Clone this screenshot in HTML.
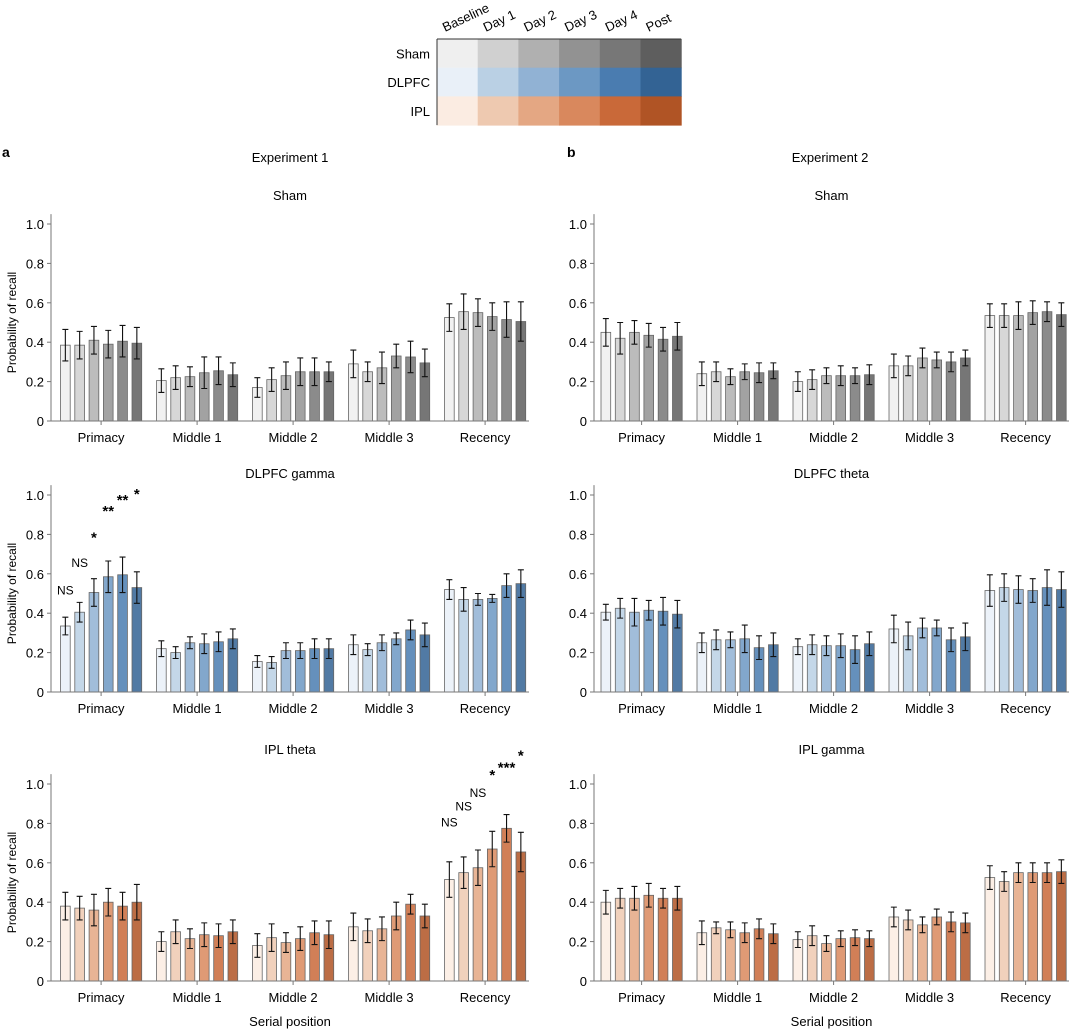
<!DOCTYPE html>
<html><head><meta charset="utf-8"><style>
html,body{margin:0;padding:0;background:#fff;}
svg{display:block;font-family:"Liberation Sans",Arial,sans-serif;}
</style></head><body>
<svg id="chart" width="1080" height="1029" viewBox="0 0 1080 1029" xmlns="http://www.w3.org/2000/svg">
<g id="legend"></g>
<text x="2" y="157" font-size="14" font-weight="bold">a</text>
<text x="567" y="157" font-size="14" font-weight="bold">b</text>
<text x="290" y="162" font-size="13" text-anchor="middle">Experiment 1</text>
<text x="830" y="162" font-size="13" text-anchor="middle">Experiment 2</text>
<g id="panels"></g>
</svg>
<script>
const groups = ["Primacy","Middle 1","Middle 2","Middle 3","Recency"];
const sessions = ["Baseline","Day 1","Day 2","Day 3","Day 4","Post"];
const conditions = ["Sham","DLPFC","IPL"];
const yTicks = [0,0.2,0.4,0.6,0.8,1.0];
const yTickLabels = ["0","0.2","0.4","0.6","0.8","1.0"];

const shamColors = ["#efefef","#d0d0d0","#b0b0b0","#929292","#777777","#5e5e5e"];
const dlpfcColors = ["#e9f0f8","#bad0e4","#91b2d4","#6c98c3","#4a7cb0","#336394"];
const iplColors = ["#fbece2","#eec9b0","#e4a783","#d9885d","#c96939","#b05425"];

const exp1Sham = [.385,.385,.41,.39,.405,.395, .205,.22,.225,.245,.255,.235, .17,.21,.23,.25,.25,.25, .29,.25,.27,.33,.325,.295, .525,.555,.55,.53,.515,.505];
const exp1ShamErr = [.08,.07,.07,.07,.08,.08, .06,.06,.05,.08,.07,.06, .05,.06,.07,.07,.07,.05, .07,.05,.08,.06,.08,.07, .07,.09,.07,.07,.09,.10];
const exp1Dlpfc = [.335,.405,.505,.585,.595,.53, .22,.20,.25,.245,.255,.27, .155,.15,.21,.21,.22,.22, .24,.215,.25,.27,.315,.29, .52,.47,.47,.475,.54,.55];
const exp1DlpfcErr = [.045,.05,.07,.08,.09,.08, .04,.03,.03,.05,.05,.05, .03,.03,.04,.04,.05,.05, .05,.03,.04,.03,.05,.06, .05,.06,.03,.02,.06,.07];
const exp1Ipl = [.38,.37,.36,.40,.38,.40, .20,.25,.215,.235,.23,.25, .18,.22,.195,.215,.245,.235, .275,.255,.265,.33,.39,.33, .515,.55,.575,.67,.775,.655];
const exp1IplErr = [.07,.06,.08,.07,.07,.09, .05,.06,.05,.06,.06,.06, .06,.07,.05,.06,.06,.07, .07,.06,.06,.07,.05,.06, .09,.08,.09,.09,.07,.10];
const exp2Sham = [.45,.42,.45,.435,.415,.43, .24,.25,.225,.25,.245,.255, .20,.21,.23,.23,.23,.235, .28,.28,.32,.31,.30,.32, .535,.535,.535,.55,.555,.54];
const exp2ShamErr = [.07,.08,.06,.06,.06,.07, .06,.05,.04,.04,.05,.04, .05,.05,.04,.05,.04,.05, .06,.05,.05,.04,.05,.04, .06,.06,.07,.06,.05,.06];
const exp2Dlpfc = [.405,.425,.405,.415,.41,.395, .25,.265,.265,.27,.225,.24, .23,.24,.235,.235,.215,.245, .32,.285,.325,.325,.265,.28, .515,.53,.52,.515,.53,.52];
const exp2DlpfcErr = [.04,.05,.07,.05,.07,.07, .05,.05,.04,.07,.06,.06, .04,.05,.05,.06,.07,.06, .07,.07,.05,.04,.06,.07, .08,.07,.07,.06,.09,.09];
const exp2Ipl = [.40,.42,.42,.435,.42,.42, .245,.27,.26,.245,.265,.24, .21,.23,.19,.215,.22,.215, .325,.31,.285,.325,.30,.295, .525,.505,.55,.55,.55,.555];
const exp2IplErr = [.06,.05,.06,.06,.05,.06, .06,.03,.04,.05,.05,.05, .04,.05,.04,.04,.04,.04, .05,.05,.04,.04,.05,.05, .06,.05,.05,.05,.05,.06];

const dlpfcSigBars = [0,1,2,3,4,5];
const dlpfcSigLabels = ["NS","NS","*","**","**","*"];
const dlpfcSigY = [0.52,0.66,0.80,0.935,0.99,1.02];
const iplSigBars = [24,25,26,27,28,29];
const iplSigLabels = ["NS","NS","NS","*","***","*"];
const iplSigY = [0.81,0.89,0.96,1.06,1.10,1.16];

const NS = "http://www.w3.org/2000/svg";
function mk(tag, attrs, parent){
  const e = document.createElementNS(NS, tag);
  for (const k in attrs) e.setAttribute(k, attrs[k]);
  parent.appendChild(e);
  return e;
}

const leg = document.getElementById('legend');
const legColors = [shamColors, dlpfcColors, iplColors];
const cellW = 40.7, cellH = 28.7, legX = 437, legY = 39;
conditions.forEach((c, r) => {
  const t = mk('text', {x: 430, y: legY + r*cellH + cellH/2 + 5, 'font-size': 13, 'text-anchor': 'end'}, leg);
  
  
  t.textContent = c;
  sessions.forEach((s, i) => {
    const rc = mk('rect', {x: legX + i*cellW, y: legY + r*cellH, width: cellW + 0.5, height: cellH + 0.5, fill: legColors[r][i]}, leg);
    
    
  });
});
mk('line', {x1: legX, y1: legY, x2: legX + 6*cellW, y2: legY, stroke: '#333', 'stroke-width': 1}, leg);
mk('line', {x1: legX, y1: legY, x2: legX, y2: legY + 3*cellH, stroke: '#333', 'stroke-width': 1}, leg);
sessions.forEach((s, i) => {
  const x = legX + i*cellW + 8, y = 32;
  const t = mk('text', {x: x, y: y, 'font-size': 13, transform: 'rotate(-25 ' + x + ' ' + y + ')'}, leg);
  
  
  t.textContent = s;
});

const panels = [
  {name:'exp1-sham', title:'Sham', vals:exp1Sham, err:exp1ShamErr, colors:shamColors, axX:51, barX:60.5, endX:529, y0:421, titleY:200, xlab:false},
  {name:'exp1-dlpfc-gamma', title:'DLPFC gamma', vals:exp1Dlpfc, err:exp1DlpfcErr, colors:dlpfcColors, axX:51, barX:60.5, endX:529, y0:692, titleY:478, xlab:false, sigBars:dlpfcSigBars, sigLabels:dlpfcSigLabels, sigY:dlpfcSigY},
  {name:'exp1-ipl-theta', title:'IPL theta', vals:exp1Ipl, err:exp1IplErr, colors:iplColors, axX:51, barX:60.5, endX:529, y0:981, titleY:754, xlab:true, sigBars:iplSigBars, sigLabels:iplSigLabels, sigY:iplSigY},
  {name:'exp2-sham', title:'Sham', vals:exp2Sham, err:exp2ShamErr, colors:shamColors, axX:594, barX:601, endX:1069, y0:421, titleY:200, xlab:false},
  {name:'exp2-dlpfc-theta', title:'DLPFC theta', vals:exp2Dlpfc, err:exp2DlpfcErr, colors:dlpfcColors, axX:594, barX:601, endX:1069, y0:692, titleY:478, xlab:false},
  {name:'exp2-ipl-gamma', title:'IPL gamma', vals:exp2Ipl, err:exp2IplErr, colors:iplColors, axX:594, barX:601, endX:1069, y0:981, titleY:754, xlab:true}
];
const GROUP_STEP = 96, BAR_STEP = 14.3, BAR_W = 9.7, Y_SCALE = 197;
const root = document.getElementById('panels');

panels.forEach(p => {
  const g = mk('g', {}, root);
  
  
  const yS = v => p.y0 - v * Y_SCALE;
  const xBar = (gi, si) => p.barX + gi*GROUP_STEP + si*BAR_STEP;
  const xCenter = gi => p.barX + gi*GROUP_STEP + (5*BAR_STEP + BAR_W)/2;
  const cx = (p.axX + p.endX)/2;

  const tt = mk('text', {x: cx, y: p.titleY, 'font-size': 13, 'text-anchor': 'middle'}, g);
  
  
  tt.textContent = p.title;

  const ya = mk('line', {x1: p.axX, y1: p.y0, x2: p.axX, y2: yS(1.05), stroke: '#777', 'stroke-width': 1}, g);
  
  
  yTicks.forEach((v, i) => {
    mk('line', {x1: p.axX - 4, y1: yS(v), x2: p.axX, y2: yS(v), stroke: '#777', 'stroke-width': 1}, g);
    const t = mk('text', {x: p.axX - 7, y: yS(v) + 5, 'font-size': 13, 'text-anchor': 'end'}, g);
    
    
    t.textContent = yTickLabels[i];
  });
  if (p.axX < 300) {
    const yy = yS(0.5);
    const yt = mk('text', {x: 16, y: yy, 'font-size': 12, 'text-anchor': 'middle', transform: 'rotate(-90 16 ' + yy + ')'}, g);
    
    
    yt.textContent = 'Probability of recall';
  }

  groups.forEach((gn, gi) => {
    sessions.forEach((s, si) => {
      const idx = gi*6 + si;
      const v = p.vals[idx], e = p.err[idx];
      const x = xBar(gi, si);
      const b = mk('rect', {x: x, y: yS(v), width: BAR_W, height: v*Y_SCALE, fill: p.colors[si], 'fill-opacity': 0.85, stroke: '#666', 'stroke-width': 0.8}, g);
      
      
      const mx = x + BAR_W/2;
      const eb = mk('path', {d: 'M' + mx + ' ' + yS(v - e) + 'V' + yS(v + e) + 'M' + (mx - 3) + ' ' + yS(v - e) + 'h6M' + (mx - 3) + ' ' + yS(v + e) + 'h6', stroke: '#111', 'stroke-width': 1.1, fill: 'none'}, g);
      
      
    });
  });

  const xa = mk('line', {x1: p.axX, y1: p.y0, x2: p.endX, y2: p.y0, stroke: '#777', 'stroke-width': 1}, g);
  
  
  groups.forEach((gn, gi) => {
    mk('line', {x1: xCenter(gi), y1: p.y0, x2: xCenter(gi), y2: p.y0 + 4, stroke: '#777', 'stroke-width': 1}, g);
    const t = mk('text', {x: xCenter(gi), y: p.y0 + 21, 'font-size': 13, 'text-anchor': 'middle'}, g);
    
    
    t.textContent = gn;
  });
  if (p.xlab) {
    const t = mk('text', {x: cx, y: p.y0 + 45, 'font-size': 13, 'text-anchor': 'middle'}, g);
    
    
    t.textContent = 'Serial position';
  }

  if (p.sigBars) {
    p.sigBars.forEach((bi, k) => {
      const gi = Math.floor(bi/6), si = bi % 6;
      const star = p.sigLabels[k] !== 'NS';
      const t = mk('text', {x: xBar(gi, si) + BAR_W/2, y: yS(p.sigY[k]) + (star ? 8 : 5), 'font-size': star ? 15 : 12, 'font-weight': star ? 'bold' : 'normal', 'text-anchor': 'middle'}, g);
      
      
      t.textContent = p.sigLabels[k];
    });
  }
});
</script>
</body></html>
